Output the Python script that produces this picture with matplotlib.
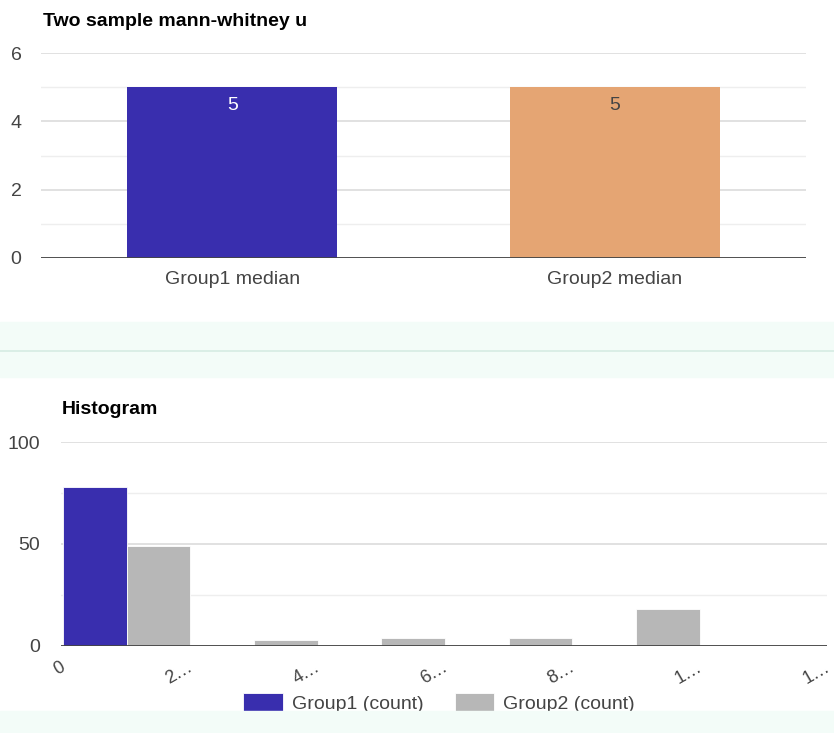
import numpy as np
import matplotlib
matplotlib.use("Agg")
import matplotlib.pyplot as plt
import matplotlib.transforms as mtransforms
from matplotlib.patches import Rectangle
from matplotlib.lines import Line2D

plt.rcParams['font.family'] = ['Liberation Sans', 'DejaVu Sans']

# data
groups = ["Group1 median", "Group2 median"]
medians = [5, 5]
median_colors = ["#392eae", "#e5a573"]
median_label_colors = ["white", "#444444"]

bin_labels = ["0", "2…", "4…", "6…", "8…", "1…", "1…"]
group1_counts = [78, 0, 0, 0, 0, 0]
group2_counts = [49, 3, 4, 4, 18, 0]
series_names = ["Group1 (count)", "Group2 (count)"]

W, H = 834, 733
fig = plt.figure(figsize=(W / 100, H / 100), dpi=100)


def fx(px):
    return px / W


def fy(py):
    return 1 - py / H


def style_axes(ax, major, minor):
    for s in ax.spines.values():
        s.set_visible(False)
    ax.set_yticks(major)
    ax.set_yticks(minor, minor=True)
    ax.grid(axis='y', which='major', color='#d9d9d9', lw=1.1, zorder=0)
    ax.grid(axis='y', which='minor', color='#eeeeee', lw=1.0, zorder=0)
    ax.tick_params(axis='both', which='both', length=0, labelsize=14, colors='#444444')
    ax.set_axisbelow(True)
    ax.axhline(0, color='#444444', lw=1.3, zorder=4)


# ---- top chart: medians
ax1 = fig.add_axes([fx(41), fy(258), fx(806 - 41), (258 - 53) / H])
x = np.arange(len(groups))
ax1.bar(x, medians, width=0.55, color=median_colors, zorder=2)
for xi, v, c in zip(x, medians, median_label_colors):
    ax1.annotate(str(v), (xi, v), xytext=(0, -7), textcoords='offset points',
                 ha='center', va='top', fontsize=14, color=c, zorder=5)
ax1.set_xlim(-0.5, 1.5)
ax1.set_ylim(0, 6)
style_axes(ax1, [0, 2, 4, 6], [1, 3, 5])
ax1.set_xticks(x)
ax1.set_xticklabels(groups)
ax1.tick_params(axis='x', pad=9)
ax1.tick_params(axis='y', pad=14)
fig.text(fx(43), fy(21), "Two sample mann-whitney u", fontsize=14,
         fontweight='bold', va='center', ha='left', color='black')

# ---- separator bands
fig.add_artist(Rectangle((0, fy(377)), 1, (377 - 322) / H, transform=fig.transFigure,
                         color='#f3fcf8', zorder=0))
fig.add_artist(Line2D([0, 1], [fy(351), fy(351)], transform=fig.transFigure,
                      color='#d6ece3', lw=1.2, zorder=1))

# ---- bottom chart: histogram
ax2 = fig.add_axes([fx(61), fy(646), fx(827 - 61), (646 - 442) / H])
edges = np.arange(0, 2 * len(group1_counts) + 1, 2)
left = edges[:-1]
b1 = ax2.bar(left + 0.5, group1_counts, width=1.0, color='#392eae',
             edgecolor='white', lw=0.6, zorder=2, label=series_names[0])
b2 = ax2.bar(left + 1.5, group2_counts, width=1.0, color='#b7b7b7',
             edgecolor='white', lw=0.6, zorder=2, label=series_names[1])
ax2.set_xlim(-0.03, edges[-1])
ax2.set_ylim(0, 100)
style_axes(ax2, [0, 50, 100], [25, 75])
ax2.set_xticks(edges)
ax2.set_xticklabels(bin_labels, rotation=30, ha='right', rotation_mode='anchor')
ax2.tick_params(axis='x', pad=9, labelsize=13)
ax2.tick_params(axis='y', pad=15)
shift = mtransforms.ScaledTranslation(-3 / 100, 0, fig.dpi_scale_trans)
for lbl in ax2.get_xticklabels():
    lbl.set_transform(lbl.get_transform() + shift)
fig.text(fx(62), fy(409), "Histogram", fontsize=14, fontweight='bold',
         va='center', ha='left', color='black')

fig.legend(handles=[b1, b2], labels=series_names, loc='center',
           bbox_to_anchor=(fx(439), fy(703)), ncol=2, frameon=False,
           fontsize=14, labelcolor='#444444', handlelength=2.05, handleheight=1.1,
           handletextpad=0.45, columnspacing=1.6, borderaxespad=0, borderpad=0)

fig.add_artist(Rectangle((0, 0), 1, (733 - 711) / H, transform=fig.transFigure,
                         color='#f3fcf8', zorder=20))

fig.savefig("out.png", dpi=100, facecolor='white')
